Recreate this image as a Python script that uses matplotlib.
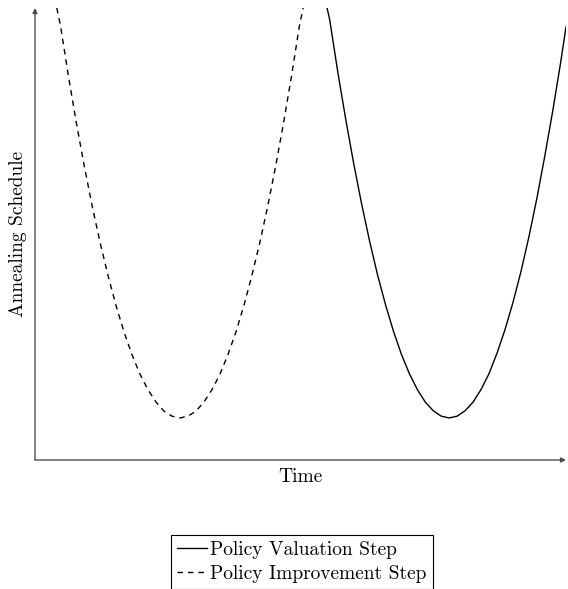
import matplotlib
matplotlib.use("Agg")
import matplotlib.pyplot as plt

plt.rcParams['font.family'] = ['cmr10', 'DejaVu Serif']
plt.rcParams['mathtext.fontset'] = 'cm'
plt.rcParams['axes.unicode_minus'] = False

# Puntos (tiempo, valor del esquema)
improve_t = [0.41, 0.48, 0.63, 0.78, 0.93, 1.08, 1.23, 1.38, 1.53, 1.68, 1.83, 1.98,
             2.13, 2.28, 2.43, 2.58, 2.73, 2.88, 3.03, 3.18, 3.33, 3.48, 3.63, 3.78,
             3.93, 4.08, 4.23, 4.38, 4.53, 4.68, 4.83, 4.98, 5.05]
improve_v = [10.0, 9.61, 8.49, 7.45, 6.49, 5.60, 4.79, 4.06, 3.40, 2.82, 2.32, 1.89,
             1.55, 1.28, 1.08, 0.97, 0.93, 0.97, 1.08, 1.28, 1.55, 1.89, 2.32, 2.82,
             3.40, 4.06, 4.79, 5.60, 6.49, 7.45, 8.49, 9.61, 10.0]

valuation_t = [5.50, 5.55, 5.70, 5.85, 6.00, 6.15, 6.30, 6.45, 6.60, 6.75, 6.90, 7.05,
               7.20, 7.35, 7.50, 7.65, 7.80, 7.95, 8.10, 8.25, 8.40, 8.55, 8.70, 8.85,
               9.00, 9.15, 9.30, 9.45, 9.60, 9.75, 9.90, 10.0]
valuation_v = [10.0, 9.74, 8.60, 7.55, 6.57, 5.67, 4.85, 4.10, 3.44, 2.85, 2.34, 1.91,
               1.56, 1.28, 1.09, 0.97, 0.93, 0.97, 1.09, 1.28, 1.56, 1.91, 2.36, 2.88,
               3.48, 4.16, 4.93, 5.78, 6.72, 7.72, 8.80, 9.58]

fig = plt.figure(figsize=(5.68, 5.89), dpi=100)
ax = fig.add_axes([35 / 568, 129 / 589, 531 / 568, 452 / 589])
ax.set_xlim(0, 10)
ax.set_ylim(0, 10)

ax.plot(valuation_t, valuation_v, color='black', lw=1.0, label='Policy Valuation Step')
ax.plot(improve_t, improve_v, color='black', lw=1.0, linestyle=(0, (4.0, 3.5)),
        label='Policy Improvement Step')

# ejes con flechas
for s in ax.spines.values():
    s.set_visible(False)
ax.set_xticks([])
ax.set_yticks([])
ax.annotate("", xy=(1.0, 0), xytext=(0, 0), xycoords='axes fraction',
            arrowprops=dict(arrowstyle="-|>", color='0.3', lw=1.0, mutation_scale=7,
                            shrinkA=0, shrinkB=0))
ax.annotate("", xy=(0, 1.0), xytext=(0, 0), xycoords='axes fraction',
            arrowprops=dict(arrowstyle="-|>", color='0.3', lw=1.0, mutation_scale=7,
                            shrinkA=0, shrinkB=0))

ax.set_xlabel("Time", fontsize=14, labelpad=6)
ax.set_ylabel("Annealing Schedule", fontsize=14, labelpad=6)

fig.legend(loc='upper center', bbox_to_anchor=(302 / 568, 54 / 589), fontsize=14,
           frameon=True, fancybox=False, edgecolor='black', framealpha=1,
           handlelength=1.55, handletextpad=0.15, borderpad=0.3, labelspacing=0.3,
           borderaxespad=0)
leg = fig.legends[0]
leg.get_frame().set_linewidth(0.8)

fig.savefig("out.png", dpi=100)
